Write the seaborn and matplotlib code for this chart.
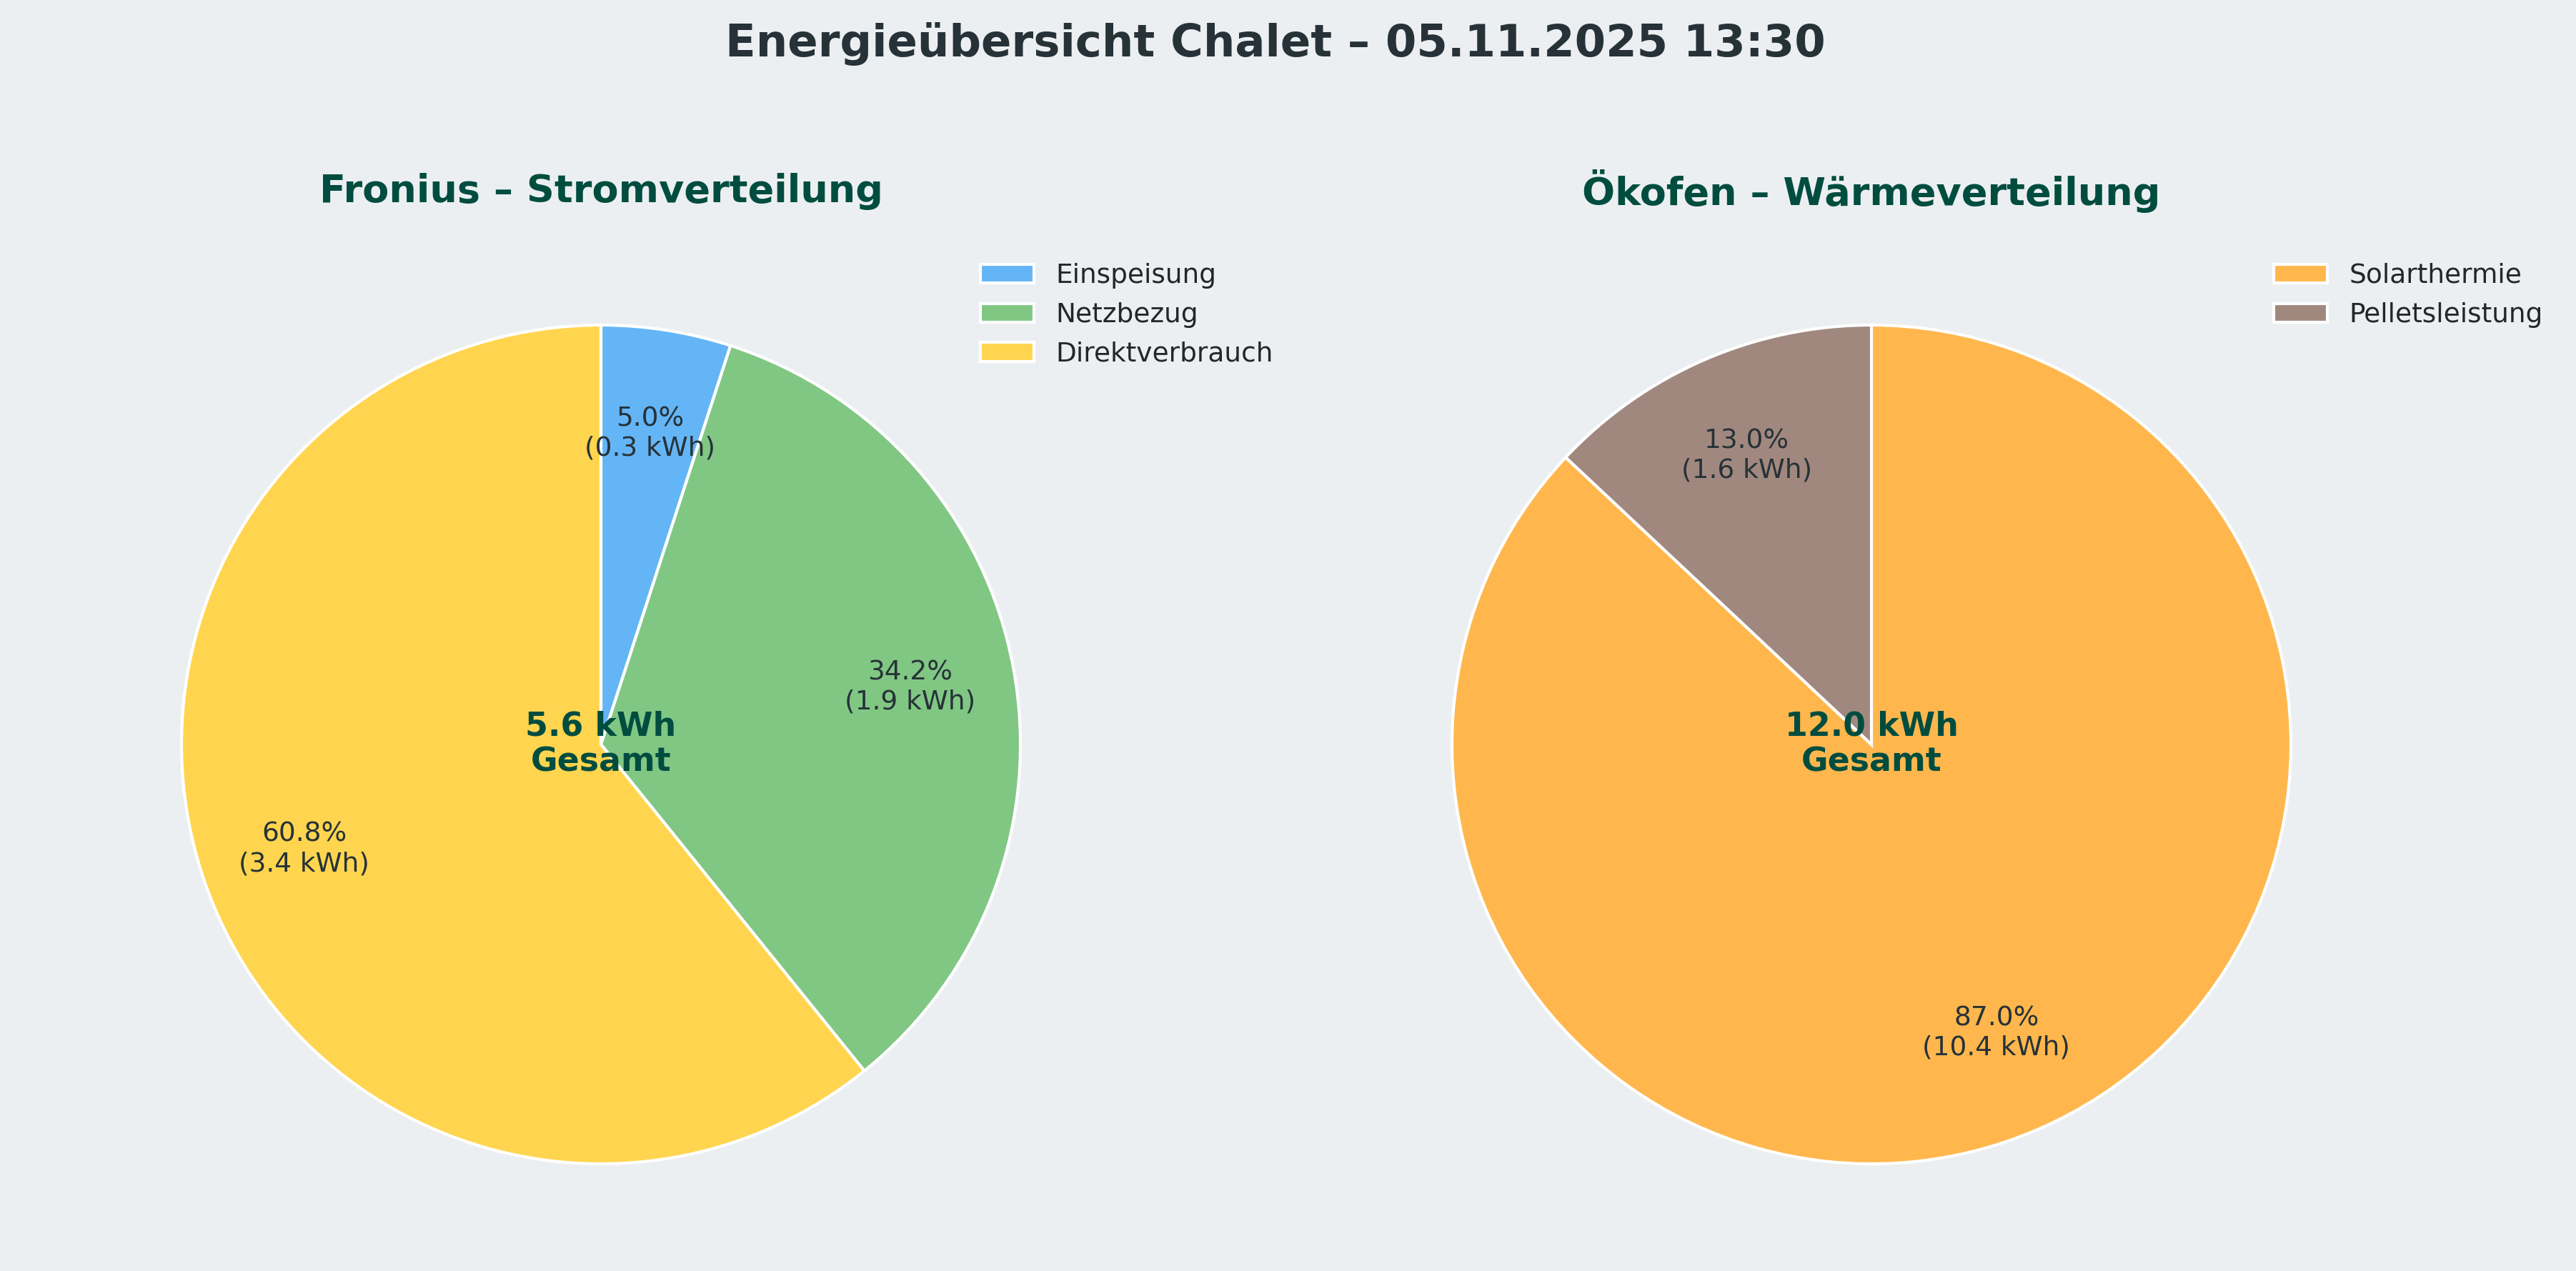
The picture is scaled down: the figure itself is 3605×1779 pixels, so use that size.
import matplotlib
matplotlib.use("Agg")
import matplotlib.pyplot as plt
import seaborn as sns

# ---- data ----
strom_labels = ["Einspeisung", "Netzbezug", "Direktverbrauch"]
strom_values = [0.28, 1.915, 3.405]
strom_colors = ["#64B5F6", "#81C784", "#FFD54F"]

waerme_labels = ["Solarthermie", "Pelletsleistung"]
waerme_values = [10.44, 1.56]
waerme_colors = ["#FFB74D", "#A1887F"]

suptitle = "Energieübersicht Chalet – 05.11.2025 13:30"
title_left = "Fronius – Stromverteilung"
title_right = "Ökofen – Wärmeverteilung"

BG = "#ECEFF1"
DARK = "#263238"
TEAL = "#004D40"

sns.set_style("white", {"axes.facecolor": BG, "figure.facecolor": BG})
plt.rcParams["font.family"] = ["DejaVu Sans"]

W, H = 3605, 1779
dpi = 300
fig = plt.figure(figsize=(W / dpi, H / dpi), dpi=dpi, facecolor=BG)

R_PX = 587
side_w = 2.2 * R_PX / W
side_h = 2.2 * R_PX / H


def make_ax(cx_px, cy_px):
    cx = cx_px / W
    cy = 1 - cy_px / H
    return fig.add_axes([cx - side_w / 2, cy - side_h / 2, side_w, side_h])


def draw(ax, values, labels, colors, title, legend_anchor):
    total = sum(values)

    def fmt(p):
        return f"{p:.1f}%\n({p * total / 100:.1f} kWh)"

    wedges, texts, autotexts = ax.pie(
        values, colors=colors, startangle=90, counterclock=False,
        autopct=fmt, pctdistance=0.75,
        wedgeprops=dict(edgecolor="white", linewidth=1.0),
        textprops=dict(color=DARK, fontsize=9),
    )
    ax.set_xlim(-1.1, 1.1)
    ax.set_ylim(-1.1, 1.1)
    ax.set_aspect("equal")
    ax.set_facecolor(BG)
    ax.text(0, 0, f"{total:.1f} kWh\nGesamt", ha="center", va="center",
            fontsize=11, fontweight="bold", color=TEAL, linespacing=1.15)
    ax.set_title(title, fontsize=13, fontweight="bold", color=TEAL,
                 y=1.080, va="center")
    fig.legend(wedges, labels, loc="upper left",
               bbox_to_anchor=legend_anchor, frameon=False, fontsize=9,
               borderaxespad=0, borderpad=0)


ax1 = make_ax(841, 1042)
ax2 = make_ax(2619, 1042)

draw(ax1, strom_values, strom_labels, strom_colors, title_left,
     (1372 / W, 1 - 368 / H))
draw(ax2, waerme_values, waerme_labels, waerme_colors, title_right,
     (3182 / W, 1 - 368 / H))

fig.text(0.495, 1 - 61 / H, suptitle, ha="center", va="center",
         fontsize=15, fontweight="bold", color=DARK)

fig.savefig("out.png", dpi=dpi, facecolor=BG)
